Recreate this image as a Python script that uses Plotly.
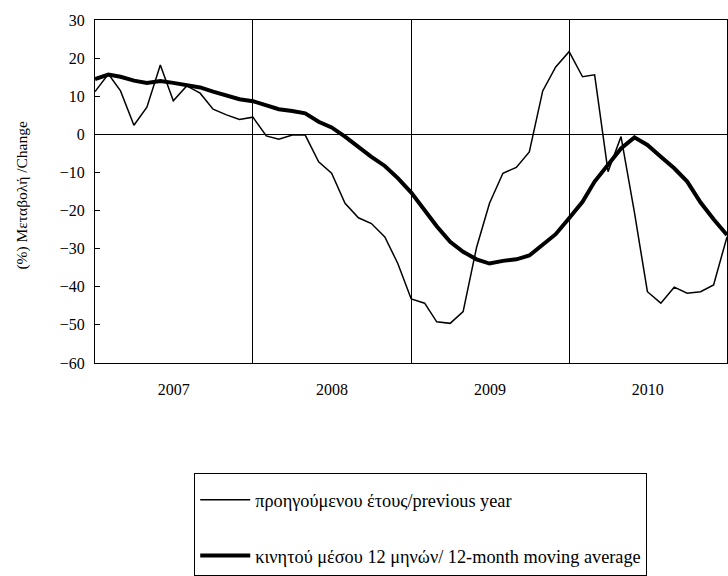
import pandas as pd
import plotly.graph_objects as go

# Monthly observations, Jan 2007 .. Jan 2011
months = pd.date_range("2007-01-01", "2011-01-01", freq="MS")

yoy_change = [
    11.2, 15.8, 11.4, 2.4, 7.1, 18.2, 8.8, 12.7, 10.8, 6.6, 5.1, 3.9,
    4.5, -0.4, -1.3, -0.2, -0.2, -7.2, -10.2, -18.1, -21.9, -23.4, -26.9, -33.9,
    -43.2, -44.3, -49.2, -49.6, -46.5, -29.7, -18.1, -10.2, -8.7, -4.6, 11.4, 17.7,
    21.7, 15.1, 15.6, -9.8, -0.6, -20.5, -41.3, -44.3, -40.1, -41.7, -41.3, -39.5,
    -26.9,
]
moving_avg = [
    14.5, 15.7, 15.1, 14.1, 13.5, 14.0, 13.5, 12.9, 12.3, 11.2, 10.1, 9.2,
    8.7, 7.7, 6.6, 6.1, 5.5, 3.3, 1.8, -0.6, -3.4, -5.9, -8.3, -11.5,
    -15.3, -19.9, -24.1, -28.2, -30.8, -32.8, -33.9, -33.2, -32.8, -31.8, -29.0, -26.2,
    -22.0, -17.7, -12.4, -8.1, -3.7, -0.8, -2.8, -5.9, -8.9, -12.4, -17.9, -22.3,
    -26.4,
]

year_labels = ["2007", "2008", "2009", "2010"]
year_label_pos = ["2007-07-02", "2008-07-02", "2009-07-02", "2010-07-02"]
year_bounds = ["2008-01-01", "2009-01-01", "2010-01-01"]

name_yoy = "προηγούμενου έτους/previous year"
name_ma = "κινητού μέσου 12 μηνών/ 12-month moving average"
y_title = "(%) Μεταβολή /Change"

FONT = "Liberation Serif, Times New Roman, serif"

fig = go.Figure()
fig.add_trace(go.Scatter(
    x=months, y=yoy_change, mode="lines", name=name_yoy,
    line=dict(color="black", width=1.5), legendgroup="a",
))
fig.add_trace(go.Scatter(
    x=months, y=moving_avg, mode="lines", name=name_ma,
    line=dict(color="black", width=4), legendgroup="b",
))

fig.update_layout(
    width=728, height=576,
    margin=dict(l=95, r=1, t=20, b=213, autoexpand=False),
    paper_bgcolor="white", plot_bgcolor="white",
    font=dict(family=FONT, size=15, color="black"),
    showlegend=True,
    legend=dict(
        x=0.157, y=-0.3195, xanchor="left", yanchor="top",
        bordercolor="black", borderwidth=1,
        tracegroupgap=29, traceorder="grouped",
        font=dict(family=FONT, size=18.3),
        itemwidth=50,
        title=dict(text=" ", font=dict(family=FONT, size=6)),
    ),
    xaxis=dict(
        range=["2007-01-01", "2011-01-01"],
        tickmode="array", tickvals=year_label_pos, ticktext=year_labels,
        ticks="", showgrid=False, zeroline=False,
        showline=True, linecolor="black", linewidth=1, mirror=True,
        ticklabelstandoff=12,
        tickfont=dict(family=FONT, size=16),
        minor=dict(tickmode="array", tickvals=year_bounds, showgrid=True,
                   gridcolor="black", gridwidth=1, ticks=""),
    ),
    yaxis=dict(
        range=[-60, 30], dtick=10, tick0=0,
        ticks="inside", ticklen=5, tickcolor="black",
        showgrid=False, zeroline=True, zerolinecolor="black", zerolinewidth=1,
        showline=True, linecolor="black", linewidth=1, mirror=True,
        tickfont=dict(family=FONT, size=16),
        ticklabelstandoff=6,
    ),
    annotations=[dict(
        text=y_title, textangle=-90, showarrow=False,
        xref="paper", yref="paper", x=-0.116, y=0.49,
        xanchor="center", yanchor="middle",
        font=dict(family=FONT, size=15.5),
    )],
)

fig.write_html(
    "out.html",
    config={"displayModeBar": False},
    post_script="document.body.style.margin='0';document.body.style.overflow='hidden';",
)
